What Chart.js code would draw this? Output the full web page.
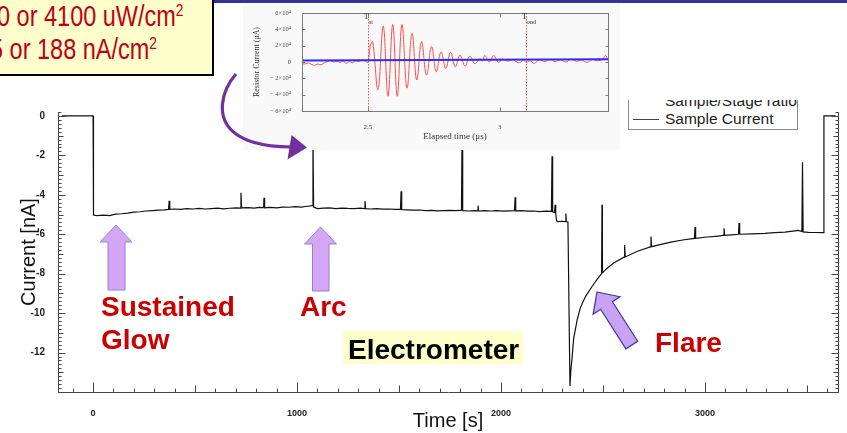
<!DOCTYPE html>
<html>
<head>
<meta charset="utf-8">
<script src="https://cdn.jsdelivr.net/npm/chart.js@4.4.1/dist/chart.umd.min.js"></script>
<style>
  html, body { margin: 0; padding: 0; background: #fff; }
  #slide { position: relative; width: 847px; height: 433px; overflow: hidden; font-family: "Liberation Sans", Arial, sans-serif; }
  #mainChart { position: absolute; left: 0; top: 0; }
  #topRule { position: absolute; left: 214px; top: 0; width: 633px; height: 2.5px; background: #33339a; }
  #note { position: absolute; left: 0; top: 0; width: 212px; height: 74px; background: #ffffcc;
          border-right: 2.5px solid #000; border-bottom: 2.5px solid #000; overflow: hidden; }
  #note div { position: absolute; white-space: nowrap; color: #c00018; font-size: 29px; line-height: 29px;
              transform: scaleX(0.81); transform-origin: 0 0; }
  #note sup { font-size: 17px; vertical-align: 10px; line-height: 0; }
  #inset { position: absolute; left: 243px; top: 4px; width: 377px; height: 146px; background: #f9f9f9; }
  #legendBox { position: absolute; left: 628px; top: 100px; width: 168px; height: 29px; background: #fff; overflow: hidden;
               border-left: 1px solid #8a8a8a; border-right: 1px solid #8a8a8a; border-bottom: 1px solid #8a8a8a; }
  #legendBox .txt { position: absolute; left: 36px; white-space: nowrap; font-size: 15.5px; line-height: 15.5px; color: #222; }
  #legendBox .swatch { position: absolute; left: 4px; top: 19px; width: 26px; height: 1px; background: #444; }
  .label { position: absolute; white-space: nowrap; font-weight: bold; font-size: 28px; line-height: 28px; color: #cc0000; }
  #electroBg { position: absolute; left: 343px; top: 331px; width: 180px; height: 33px; background: #ffffcc; }
  #marks { position: absolute; left: 0; top: 0; pointer-events: none; }
</style>
</head>
<body>
<div id="slide">
  <canvas id="mainChart" width="847" height="433"></canvas>
  <div id="topRule"></div>
  <div id="note">
    <div style="left:-3px; top:2px;">0 or 4100 uW/cm<sup>2</sup></div>
    <div style="left:-10px; top:35px;">5 or 188 nA/cm<sup>2</sup></div>
  </div>
  <div id="inset"><canvas id="insetChart" width="377" height="146"></canvas></div>
  <div id="legendBox">
    <div class="txt" style="top:-7px;">Sample/Stage ratio</div>
    <div class="swatch"></div>
    <div class="txt" style="top:11px;">Sample Current</div>
  </div>
  <div class="label" style="left:101px; top:293px;">Sustained</div>
  <div class="label" style="left:101px; top:326px;">Glow</div>
  <div class="label" style="left:300px; top:293px;">Arc</div>
  <div id="electroBg"></div>
  <div class="label" style="left:348px; top:336px; color:#000;">Electrometer</div>
  <div class="label" style="left:655px; top:329px;">Flare</div>
  <svg id="marks" width="847" height="433">
    <path d="M236 74 C222 90 214 118 236 134 C250 144 270 147 292 147" fill="none" stroke="#7030a0" stroke-width="3.2"/>
    <polygon points="307,147.5 291.5,135 287.5,159.5" fill="#7030a0"/>
    <polygon points="116,225 132,242 125,242 125,290 108,290 108,242 100,242" fill="#d6a6f6" stroke="#9384c8" stroke-width="1"/>
    <polygon points="320.5,227 336.5,244 329,244 329,291 312.5,291 312.5,244 304.5,244" fill="#d6a6f6" stroke="#9384c8" stroke-width="1"/>
    <polygon points="597,292 619.9,296.7 612.4,301.7 637.7,341.2 625.9,348.8 600.6,309.3 593.1,314.3" fill="#c9a2f6" stroke="#3a36a0" stroke-width="1.2"/>
  </svg>
</div>

<script>
// Electrometer trace: time [s], sample current [nA]
const sampleTime = [
  -152, 0, 2, 20, 50, 80, 110, 140, 170, 200,
  230, 260, 290, 320, 350, 370, 373, 376, 400, 430,
  460, 490, 520, 550, 580, 610, 640, 670, 700, 723,
  725, 728, 760, 790, 815, 836, 838, 841, 870, 900,
  930, 960, 990, 1020, 1050, 1075, 1078, 1081, 1100, 1130,
  1160, 1190, 1220, 1250, 1280, 1310, 1331, 1333, 1336, 1360,
  1390, 1420, 1450, 1480, 1507, 1510, 1513, 1540, 1570, 1600,
  1630, 1660, 1690, 1720, 1750, 1780, 1806, 1809, 1812, 1840,
  1870, 1885, 1887, 1890, 1920, 1950, 1980, 2010, 2040, 2066,
  2069, 2072, 2100, 2130, 2160, 2190, 2220, 2247, 2250, 2253,
  2262, 2265, 2268, 2272, 2276, 2300, 2316, 2318, 2320, 2328,
  2338, 2342, 2348, 2356, 2373, 2389, 2414, 2446, 2471, 2493, 2495, 2497,
  2520, 2554, 2603, 2606, 2609, 2669, 2732, 2735, 2738, 2790, 2833,
  2890, 2948, 2951, 2954, 3010, 3064, 3090, 3093, 3096, 3130,
  3164, 3167, 3170, 3230, 3294, 3340, 3392, 3430, 3458, 3475,
  3478, 3481, 3507, 3545, 3580, 3583, 3640
];
const sampleCurrent = [
  0, 0, -5.02, -5.06, -5.03, -5.05, -4.98, -4.96, -4.93, -4.88,
  -4.86, -4.82, -4.80, -4.78, -4.76, -4.74, -4.30, -4.74, -4.72, -4.74,
  -4.70, -4.72, -4.69, -4.72, -4.70, -4.68, -4.71, -4.68, -4.66, -4.67,
  -3.90, -4.66, -4.65, -4.67, -4.64, -4.65, -4.15, -4.66, -4.64, -4.66,
  -4.62, -4.63, -4.60, -4.62, -4.58, -4.55, -1.00, -4.62, -4.70, -4.67,
  -4.66, -4.70, -4.67, -4.69, -4.70, -4.68, -4.70, -4.32, -4.70, -4.72,
  -4.70, -4.73, -4.72, -4.74, -4.74, -3.82, -4.75, -4.76, -4.78, -4.77,
  -4.80, -4.79, -4.81, -4.80, -4.79, -4.80, -4.78, -1.00, -4.80, -4.82,
  -4.80, -4.81, -4.55, -4.82, -4.80, -4.82, -4.80, -4.83, -4.81, -4.80,
  -4.12, -4.81, -4.80, -4.83, -4.82, -4.85, -4.83, -4.84, -2.05, -4.86,
  -4.90, -4.50, -4.92, -5.30, -5.36, -5.34, -5.36, -4.95, -5.36, -5.38,
  -13.70, -12.95, -12.30, -11.29, -10.35, -9.72, -9.16, -8.65, -8.29, -7.99, -4.50, -7.96,
  -7.72, -7.45, -7.16, -6.55, -7.15, -6.86, -6.64, -6.12, -6.63, -6.50, -6.40,
  -6.29, -6.21, -5.63, -6.21, -6.14, -6.09, -6.06, -5.70, -6.06, -6.03,
  -6.00, -5.43, -6.00, -5.98, -5.96, -5.92, -5.89, -5.84, -5.80, -5.86,
  -2.35, -5.88, -5.90, -5.91, -5.92, 0, 0
];
const timeTicks = [0, 1000, 2000, 3000];
const currentTicks = [-12, -10, -8, -6, -4, -2, 0];

// Inset: resistor current during an arc, time [µs], current [µA]
const arcTime = [
  2.250, 2.262, 2.274, 2.286, 2.298, 2.310, 2.322, 2.334, 2.346, 2.358,
  2.370, 2.382, 2.394, 2.406, 2.418, 2.430, 2.442, 2.454, 2.466, 2.478,
  2.490, 2.500, 2.509, 2.518, 2.538, 2.558, 2.576, 2.594, 2.611, 2.629,
  2.648, 2.667, 2.685, 2.703, 2.722, 2.741, 2.759, 2.777, 2.795, 2.813,
  2.831, 2.849, 2.868, 2.886, 2.905, 2.925, 2.935, 2.943, 2.960, 2.977,
  2.995, 3.010, 3.030, 3.050, 3.070, 3.090, 3.100, 3.115, 3.130, 3.150,
  3.170, 3.190, 3.210, 3.230, 3.250, 3.270, 3.290, 3.310, 3.330, 3.350,
  3.370, 3.390, 3.400, 3.410
];
const arcCurrent = [
  -1500, -2500, -1000, -3000, -4000, -2500, -3500, -1000, 500, 1500,
  0, 1000, -500, 1000, -1500, 500, -1000, 1500, 500, 3000,
  1000, -500, 20000, 25000, -34000, 44000, -42000, 46000, -42000, 46000,
  -32000, 35000, -22000, 25000, -16000, 19000, -12000, 12500, -8000, 12000,
  -6000, 8500, -5000, 7000, -2000, 4000, 1000, 8000, 0, 8000,
  -500, 3500, 1000, 3000, -1000, 2000, -500, 1500, -1500, 2500,
  500, 3000, 500, 2500, 0, 3500, 1000, 2500, -500, 3000,
  1500, 3500, 8000, 2000
];
const fitTime = [2.25, 3.41];
const fitCurrent = [1800, 3300];
const insetTimeTicks = [2.5, 3];
const insetCurrentTicks = [-60000, -40000, -20000, 0, 20000, 40000, 60000];
const markerTimes = [2.5, 3.1];
const markerLabels = ['st', 'end'];

const sansFont = 'Liberation Sans';
const serifFont = 'Liberation Serif';

// frame and inward ticks for the main plot (left, bottom, right)
const mainFrame = {
    id: 'mainFrame',
    afterDraw(chart) {
        const {ctx, chartArea: a, scales: {x, y}} = chart;
        const L = a.left + 0.5, R = Math.round(a.right) + 0.5, B = Math.round(a.bottom) + 0.5;
        ctx.save();
        ctx.strokeStyle = '#444';
        ctx.lineWidth = 1;
        ctx.beginPath();
        ctx.moveTo(L, a.top);
        ctx.lineTo(L, B);
        ctx.lineTo(R, B);
        ctx.lineTo(R, a.top);
        for (let t = -100; t <= 3600; t += 100) {
            const px = Math.round(x.getPixelForValue(t)) + 0.5;
            const len = t % 1000 === 0 ? 10 : (t % 500 === 0 ? 7 : 4);
            ctx.moveTo(px, B);
            ctx.lineTo(px, B - len);
        }
        for (let i = -70; i <= 1; i++) {
            const py = Math.round(y.getPixelForValue(i / 5)) + 0.5;
            const len = i % 10 === 0 ? 7 : (i % 5 === 0 ? 5 : 3);
            ctx.moveTo(L, py);
            ctx.lineTo(L + len, py);
            ctx.moveTo(R, py);
            ctx.lineTo(R - len, py);
        }
        ctx.stroke();
        ctx.restore();
    }
};

new Chart(document.getElementById('mainChart').getContext('2d'), {
    type: 'line',
    data: {
        datasets: [{
            label: 'Sample Current',
            data: sampleTime.map((t, i) => ({x: t, y: sampleCurrent[i]})),
            borderColor: '#111',
            borderWidth: 1.2,
            pointRadius: 0,
            tension: 0
        }]
    },
    options: {
        responsive: false,
        animation: false,
        layout: {padding: {top: 112, right: 9, left: 0, bottom: 0}},
        plugins: {legend: {display: false}, tooltip: {enabled: false}},
        scales: {
            x: {
                type: 'linear',
                min: -172,
                max: 3652,
                afterBuildTicks: s => { s.ticks = timeTicks.map(v => ({value: v})); },
                afterFit: s => { s.height = 41; },
                grid: {display: false},
                border: {display: false},
                ticks: {
                    padding: 8,
                    color: '#222',
                    maxRotation: 0,
                    autoSkip: false,
                    font: {family: sansFont, size: 9, weight: 'bold'},
                    callback: v => String(v)
                },
                title: {
                    display: true,
                    text: 'Time [s]',
                    color: '#111',
                    font: {family: sansFont, size: 20},
                    padding: {top: 0, bottom: 0}
                }
            },
            y: {
                type: 'linear',
                min: -14,
                max: 0.2,
                afterBuildTicks: s => { s.ticks = currentTicks.map(v => ({value: v})); },
                afterFit: s => { s.width = 58; },
                grid: {display: false},
                border: {display: false},
                ticks: {
                    padding: 5,
                    color: '#222',
                    font: {family: sansFont, size: 10, weight: 'bold'},
                    callback: v => String(v)
                },
                title: {
                    display: true,
                    text: 'Current [nA]',
                    color: '#111',
                    font: {family: sansFont, size: 20},
                    padding: {top: 17, bottom: 0}
                }
            }
        }
    },
    plugins: [mainFrame]
});

// inset: dotted markers, frame, ticks, T labels
const insetFrame = {
    id: 'insetFrame',
    beforeDatasetsDraw(chart) {
        const {ctx, chartArea: a, scales: {x}} = chart;
        ctx.save();
        ctx.strokeStyle = '#ff5050';
        ctx.lineWidth = 1;
        ctx.setLineDash([1.5, 1.5]);
        markerTimes.forEach(t => {
            const px = Math.round(x.getPixelForValue(t)) + 0.5;
            ctx.beginPath();
            ctx.moveTo(px, a.top);
            ctx.lineTo(px, a.bottom);
            ctx.stroke();
        });
        ctx.restore();
    },
    afterDraw(chart) {
        const {ctx, chartArea: a, scales: {x, y}} = chart;
        const L = Math.round(a.left) + 0.5, R = Math.round(a.right) + 0.5;
        const T = Math.round(a.top) + 0.5, B = Math.round(a.bottom) + 0.5;
        ctx.save();
        ctx.strokeStyle = '#7a7a7a';
        ctx.lineWidth = 1;
        ctx.strokeRect(L, T, R - L, B - T);
        ctx.beginPath();
        insetTimeTicks.forEach(t => {
            const px = Math.round(x.getPixelForValue(t)) + 0.5;
            ctx.moveTo(px, B); ctx.lineTo(px, B - 4);
            ctx.moveTo(px, T); ctx.lineTo(px, T + 4);
        });
        insetCurrentTicks.forEach(v => {
            const py = Math.round(y.getPixelForValue(v)) + 0.5;
            ctx.moveTo(L, py); ctx.lineTo(L + 3, py);
            ctx.moveTo(R, py); ctx.lineTo(R - 3, py);
        });
        ctx.stroke();
        ctx.fillStyle = '#333';
        markerTimes.forEach((t, i) => {
            const px = x.getPixelForValue(t);
            ctx.font = '9px ' + serifFont;
            ctx.textAlign = 'right';
            ctx.textBaseline = 'middle';
            ctx.fillText('T', px + 1, a.top + 4);
            ctx.font = '6px ' + serifFont;
            ctx.textAlign = 'left';
            ctx.fillText(markerLabels[i], px + 1, a.top + 9);
        });
        ctx.restore();
    }
};

new Chart(document.getElementById('insetChart').getContext('2d'), {
    type: 'line',
    data: {
        datasets: [{
            label: 'fit',
            data: fitTime.map((t, i) => ({x: t, y: fitCurrent[i]})),
            borderColor: '#2b2bff',
            borderWidth: 2,
            pointRadius: 0
        }, {
            label: 'Resistor Current',
            data: arcTime.map((t, i) => ({x: t, y: arcCurrent[i]})),
            borderColor: '#ff4a4a',
            borderWidth: 1,
            pointRadius: 0,
            tension: 0.4
        }]
    },
    options: {
        responsive: false,
        animation: false,
        layout: {padding: {top: 9, right: 12, left: 0, bottom: 0}},
        plugins: {legend: {display: false}, tooltip: {enabled: false}},
        scales: {
            x: {
                type: 'linear',
                min: 2.25,
                max: 3.41,
                afterBuildTicks: s => { s.ticks = insetTimeTicks.map(v => ({value: v})); },
                afterFit: s => { s.height = 39; },
                grid: {display: false},
                border: {display: false},
                ticks: {
                    padding: 4,
                    color: '#444',
                    maxRotation: 0,
                    autoSkip: false,
                    font: {family: serifFont, size: 7},
                    callback: v => String(v)
                },
                title: {
                    display: true,
                    text: 'Elapsed time (μs)',
                    color: '#333',
                    font: {family: serifFont, size: 9},
                    padding: {top: 0, bottom: 8}
                }
            },
            y: {
                type: 'linear',
                min: -60000,
                max: 60000,
                afterBuildTicks: s => { s.ticks = insetCurrentTicks.map(v => ({value: v})); },
                afterFit: s => { s.width = 59; },
                grid: {display: false},
                border: {display: false},
                ticks: {
                    padding: 3,
                    color: '#444',
                    font: {family: serifFont, size: 6.5},
                    callback: v => v === 0 ? '0' : (v < 0 ? '− ' : '') + Math.abs(v / 10000) + '×10⁴'
                },
                title: {
                    display: true,
                    text: 'Resistor Current (μA)',
                    color: '#333',
                    font: {family: serifFont, size: 8},
                    padding: {top: 9, bottom: 0}
                }
            }
        }
    },
    plugins: [insetFrame]
});
</script>
</body>
</html>
